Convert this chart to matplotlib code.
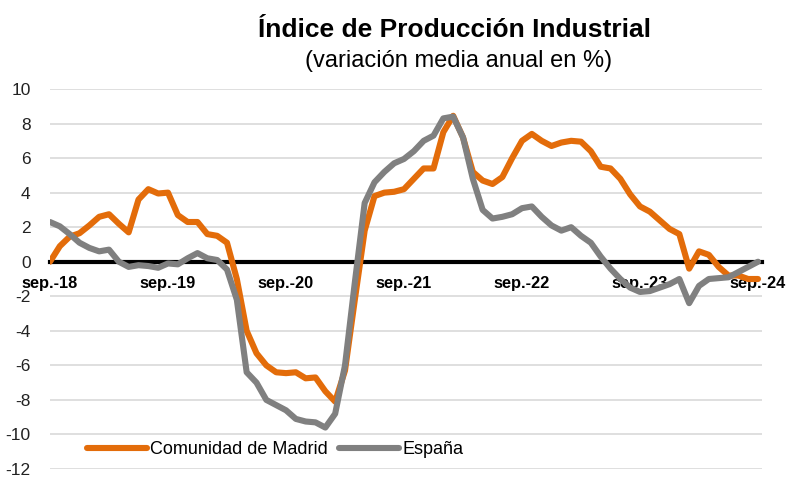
import matplotlib
matplotlib.use("Agg")
import matplotlib.pyplot as plt
import numpy as np

plt.rcParams['font.family'] = ['Liberation Sans', 'DejaVu Sans']
plt.rcParams['axes.unicode_minus'] = False

tick_labels = ["sep.-18", "sep.-19", "sep.-20", "sep.-21", "sep.-22", "sep.-23", "sep.-24"]

madrid = [0.0, 0.9, 1.45, 1.65, 2.1, 2.6, 2.75, 2.2, 1.7, 3.6,
          4.2, 3.95, 4.0, 2.7, 2.3, 2.3, 1.6, 1.5, 1.1, -1.0,
          -4.0, -5.3, -6.0, -6.4, -6.45, -6.4, -6.75, -6.7, -7.5, -8.1,
          -6.3, -2.2, 1.8, 3.8, 4.0, 4.05, 4.2, 4.8, 5.4, 5.4,
          7.5, 8.45, 7.2, 5.2, 4.7, 4.5, 4.9, 6.0, 7.0, 7.4,
          7.0, 6.7, 6.9, 7.0, 6.95, 6.4, 5.5, 5.4, 4.8, 3.9,
          3.2, 2.9, 2.4, 1.9, 1.6, -0.4, 0.6, 0.4, -0.3, -0.8,
          -0.8, -1.0, -1.0]

espana = [2.3, 2.05, 1.6, 1.1, 0.8, 0.6, 0.7, 0.0, -0.3, -0.2,
          -0.25, -0.35, -0.1, -0.15, 0.2, 0.5, 0.2, 0.1, -0.45, -2.2,
          -6.4, -7.0, -8.0, -8.3, -8.6, -9.1, -9.25, -9.3, -9.6, -8.8,
          -6.0, -1.2, 3.4, 4.6, 5.2, 5.7, 5.95, 6.4, 7.0, 7.3,
          8.3, 8.4, 7.2, 4.8, 3.0, 2.5, 2.6, 2.75, 3.1, 3.2,
          2.6, 2.1, 1.8, 2.0, 1.5, 1.1, 0.3, -0.4, -1.0, -1.5,
          -1.75, -1.7, -1.5, -1.3, -1.0, -2.4, -1.4, -1.0, -0.95, -0.9,
          -0.6, -0.3, 0.0]

x = np.arange(len(madrid))

fig = plt.figure(figsize=(7.9, 4.79), dpi=100)
ax = fig.add_axes([50/790, 1-469/479, (762-50)/790, (469-89)/479])

ax.set_ylim(-12, 10)
ax.set_xlim(0, (len(madrid) - 1) * 712 / 708)
ax.set_yticks(np.arange(-12, 11, 2))
ax.yaxis.grid(True, color='#D9D9D9', linewidth=1.2)
ax.set_axisbelow(True)

ax.plot(x, madrid, color='#E36C0A', linewidth=4.4, solid_capstyle='round',
        solid_joinstyle='round', label='Comunidad de Madrid', zorder=3)
ax.plot(x, espana, color='#808080', linewidth=4.4, solid_capstyle='round',
        solid_joinstyle='round', label='España', zorder=3)

for s in ['top', 'right', 'left']:
    ax.spines[s].set_visible(False)
ax.spines['bottom'].set_position(('data', 0))
ax.spines['bottom'].set_linewidth(3)
ax.spines['bottom'].set_color('black')
ax.spines['bottom'].set_zorder(2)

ax.set_xticks(np.arange(0, len(madrid), 12))
ax.set_xticklabels(tick_labels, fontweight='bold', fontsize=11.8)
ax.tick_params(axis='x', length=0, pad=10)
ax.tick_params(axis='y', length=0, pad=14, labelsize=12.5)
for lab in ax.get_yticklabels():
    lab.set_color('#222222')

fig.text(455/790, 1-30/479, 'Índice de Producción Industrial', ha='center', va='center',
         fontsize=19, fontweight='bold')
fig.text(459/790, 1-61/479, '(variación media anual en %)', ha='center', va='center',
         fontsize=17)

leg = ax.legend(loc='center left', bbox_to_anchor=(30/712, 1-(450-89)/380), ncol=2,
                frameon=False, fontsize=13, handlelength=3.3, handletextpad=0.2,
                columnspacing=0.6, borderaxespad=0)

fig.savefig('out.png', dpi=100)
